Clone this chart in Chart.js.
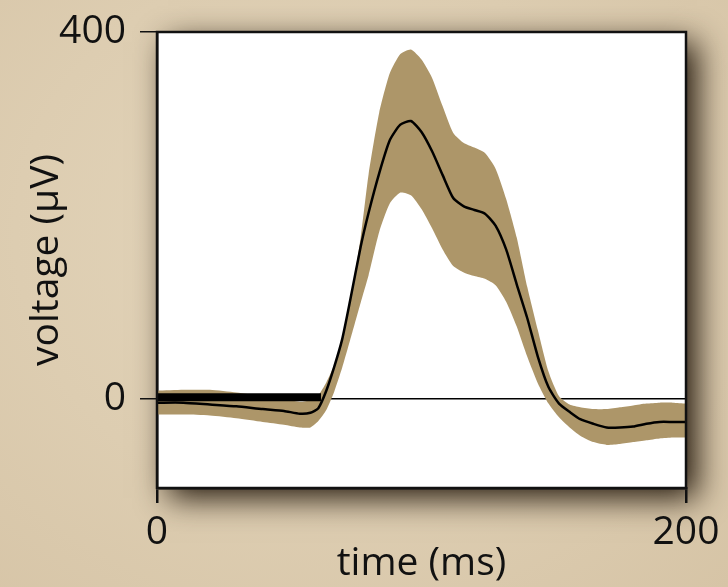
<!DOCTYPE html>
<html>
<head>
<meta charset="utf-8">
<script src="https://cdn.jsdelivr.net/npm/chart.js@4.4.1/dist/chart.umd.min.js"></script>
<style>
  html, body { margin: 0; padding: 0; }
  body {
    width: 728px; height: 587px; overflow: hidden;
    background: radial-gradient(ellipse at 45% 40%, #e4d6bc 0%, #ddcdb1 55%, #d6c4a6 100%);
  }
  #wrap { position: relative; width: 728px; height: 587px; }
</style>
</head>
<body>
<div id="wrap"><canvas id="erpChart" width="728" height="587"></canvas></div>
<script>
// time axis (ms) and voltages (µV)
const timeMs  = [0, 10, 20, 30, 40, 48, 54, 58, 61, 64, 67, 70, 73, 77, 80, 84, 88, 92, 96, 100,
                 104, 108, 112, 116, 120, 124, 128, 132, 136, 140, 144, 148, 152, 156, 160, 165,
                 170, 175, 180, 185, 190, 195, 200];
const meanUV  = [-4, -4, -6, -8, -11, -13, -16, -15, -10, 9, 35, 65, 107, 166, 203, 246, 282, 299, 303, 291,
                 270, 244, 219, 210, 206, 202, 189, 163, 125, 88, 46, 13, -5, -14, -22, -27,
                 -31, -31, -30, -27, -25, -25, -25];
const upperUV = [9, 10, 10, 7, 3, 0, -3, -1, 4, 18, 37, 66, 105, 176, 245, 312, 355, 376, 381, 370,
                 350, 319, 290, 279, 274, 268, 251, 218, 176, 122, 75, 30, 3, -6, -9, -11,
                 -11, -9, -7, -5, -4, -4, -5];
const lowerUV = [-17, -17, -18, -21, -25, -28, -31, -31, -24, -12, 8, 34, 64, 105, 135, 182, 213, 225, 222, 207,
                 186, 163, 145, 138, 134, 131, 124, 106, 79, 46, 17, -5, -20, -31, -40, -47,
                 -50, -49, -47, -45, -43, -42, -42];

// stimulus bar
const stimTime  = [0, 62];
const stimLevel = [2, 2];

const xTicks = [0, 200];
const yTicks = [0, 400];

const toXY = (xs, ys) => xs.map((x, i) => ({ x: x, y: ys[i] }));

const FONT = "'Open Sans', 'DejaVu Sans', sans-serif";

// white plot panel with drop shadow + black frame
const plotFrame = {
  id: 'plotFrame',
  beforeDraw(chart) {
    const { ctx, chartArea: a } = chart;
    ctx.save();
    ctx.shadowColor = 'rgba(35, 24, 12, 1)';
    ctx.shadowBlur = 30;
    ctx.shadowOffsetX = 11;
    ctx.shadowOffsetY = 10;
    ctx.fillStyle = '#fff';
    ctx.fillRect(a.left, a.top, a.width, a.height);
    ctx.restore();
  },
  afterDatasetsDraw(chart) {
    const { ctx, chartArea: a } = chart;
    ctx.save();
    ctx.strokeStyle = '#111';
    ctx.lineWidth = 2.5;
    ctx.strokeRect(a.left, a.top, a.width, a.height);
    ctx.restore();
  }
};

const ctx = document.getElementById('erpChart').getContext('2d');
new Chart(ctx, {
  type: 'line',
  data: {
    datasets: [
      {
        label: 'stimulus',
        data: toXY(stimTime, stimLevel),
        borderColor: '#000',
        borderWidth: 8,
        borderCapStyle: 'butt',
        pointRadius: 0,
        fill: false
      },
      {
        label: 'mean',
        data: toXY(timeMs, meanUV),
        borderColor: '#000',
        borderWidth: 2.5,
        pointRadius: 0,
        tension: 0.2,
        fill: false
      },
      {
        label: 'upper',
        data: toXY(timeMs, upperUV),
        borderWidth: 0,
        borderColor: 'rgba(0,0,0,0)',
        backgroundColor: '#ad9669',
        pointRadius: 0,
        tension: 0.2,
        fill: '+1'
      },
      {
        label: 'lower',
        data: toXY(timeMs, lowerUV),
        borderWidth: 0,
        borderColor: 'rgba(0,0,0,0)',
        pointRadius: 0,
        tension: 0.2,
        fill: false
      }
    ]
  },
  options: {
    responsive: false,
    devicePixelRatio: 1,
    animation: false,
    layout: { padding: { top: 32, right: 42, left: 0, bottom: 0 } },
    plugins: {
      legend: { display: false },
      tooltip: { enabled: false }
    },
    scales: {
      x: {
        type: 'linear',
        min: 0,
        max: 200,
        afterBuildTicks: s => { s.ticks = xTicks.map(v => ({ value: v })); },
        afterFit: s => { s.height = 99; s.paddingLeft = 0; s.paddingRight = 0; },
        grid: { drawOnChartArea: false, drawTicks: true, tickLength: 15, color: '#111', lineWidth: 2.5 },
        border: { display: true, color: '#111', width: 2.5 },
        ticks: { color: '#111', font: { family: FONT, size: 39 }, padding: 6, maxRotation: 0 },
        title: { display: true, text: 'time (ms)', color: '#111', font: { family: FONT, size: 39 }, padding: 0 }
      },
      y: {
        min: -97,
        max: 400,
        z: 1,
        afterBuildTicks: s => { s.ticks = yTicks.map(v => ({ value: v })); },
        afterFit: s => { s.width = 157; s.paddingTop = 0; s.paddingBottom = 0; },
        grid: {
          drawOnChartArea: true,
          drawTicks: true,
          tickLength: 17,
          color: c => (c.tick && c.tick.value === 0) ? '#000' : 'rgba(0,0,0,0)',
          tickColor: '#111',
          lineWidth: 1.5
        },
        border: { display: true, color: '#111', width: 2.5 },
        ticks: { color: '#111', font: { family: FONT, size: 39 }, padding: 14 },
        title: { display: true, text: 'voltage (μV)', color: '#111', font: { family: FONT, size: 39 }, padding: { top: 23, bottom: 0 } }
      }
    }
  },
  plugins: [plotFrame]
});
</script>
</body>
</html>
